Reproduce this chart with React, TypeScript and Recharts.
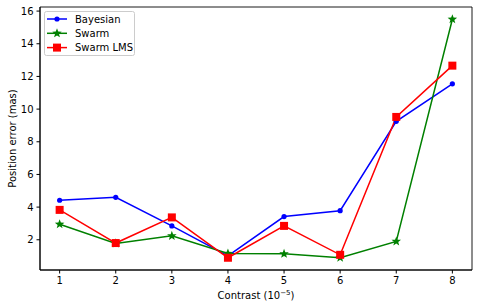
import React from 'react';
import { LineChart, Line, XAxis, YAxis, ReferenceArea, Label } from 'recharts';

const contrast = [1, 2, 3, 4, 5, 6, 7, 8];
const bayesian = [4.42, 4.6, 2.85, 1.02, 3.42, 3.78, 9.25, 11.55];
const swarm = [2.95, 1.78, 2.24, 1.16, 1.14, 0.9, 1.9, 15.5];
const swarmLms = [3.83, 1.8, 3.37, 0.9, 2.85, 1.08, 9.52, 12.66];
const xTicks = [1, 2, 3, 4, 5, 6, 7, 8];
const yTicks = [2, 4, 6, 8, 10, 12, 14, 16];

const rows = contrast.map((c, i) => ({
  c,
  bayesian: bayesian[i],
  swarm: swarm[i],
  swarmLms: swarmLms[i],
}));

const FONT = '"DejaVu Sans", sans-serif';

const starPath = (cx: number, cy: number, R: number, r: number) => {
  let d = '';
  for (let i = 0; i < 10; i++) {
    const rad = i % 2 === 0 ? R : r;
    const a = -Math.PI / 2 + (i * Math.PI) / 5;
    d += (i === 0 ? 'M' : 'L') + (cx + rad * Math.cos(a)).toFixed(2) + ',' + (cy + rad * Math.sin(a)).toFixed(2);
  }
  return d + 'Z';
};

const CircleDot = (p: any) => <circle key={p.key} cx={p.cx} cy={p.cy} r={2.6} fill="#0000ff" />;
const StarDot = (p: any) => <path key={p.key} d={starPath(p.cx, p.cy, 5, 2.1)} fill="#008000" />;
const SquareDot = (p: any) => (
  <rect key={p.key} x={p.cx - 4} y={p.cy - 4} width={8} height={8} fill="#ff0000" />
);

const legendItems = [
  { name: 'Bayesian', color: '#0000ff', kind: 'circle' },
  { name: 'Swarm', color: '#008000', kind: 'star' },
  { name: 'Swarm LMS', color: '#ff0000', kind: 'square' },
];

const LegendBox = () => (
  <svg width={92} height={46} style={{ display: 'block' }}>
    <rect x={0.5} y={0.5} width={90} height={44} rx={2} fill="#fff" fillOpacity={0.8} stroke="#cccccc" />
    {legendItems.map((it, i) => {
      const y = 8 + i * 14.3;
      return (
        <g key={it.name}>
          <line x1={3} x2={23} y1={y} y2={y} stroke={it.color} strokeWidth={1.5} />
          {it.kind === 'circle' && <circle cx={13} cy={y} r={2.6} fill={it.color} />}
          {it.kind === 'star' && <path d={starPath(13, y, 5, 2.1)} fill={it.color} />}
          {it.kind === 'square' && <rect x={9} y={y - 4} width={8} height={8} fill={it.color} />}
          <text x={31} y={y + 3.6} fontSize={10} fontFamily={FONT} fill="#000">
            {it.name}
          </text>
        </g>
      );
    })}
  </svg>
);

const XLabel = (props: any) => {
  const { viewBox } = props;
  const cx = viewBox.x + viewBox.width / 2;
  return (
    <text x={cx} y={viewBox.y + 29} textAnchor="middle" fontSize={10} fontFamily={FONT} fill="#000">
      Contrast (10
      <tspan dy={-4} fontSize={7}>−5</tspan>
      <tspan dy={4}>)</tspan>
    </text>
  );
};

const YLabel = (props: any) => {
  const { viewBox } = props;
  const cy = viewBox.y + viewBox.height / 2;
  return (
    <text
      x={12}
      y={cy}
      transform={`rotate(-90 12 ${cy})`}
      textAnchor="middle"
      dominantBaseline="central"
      fontSize={10}
      fontFamily={FONT}
      fill="#000"
    >
      Position error (mas)
    </text>
  );
};

export default function App() {
  return (
    <div style={{ position: 'fixed', left: 0, top: 0, width: 479, height: 308, background: '#fff' }}>
      <LineChart width={479} height={308} data={rows} margin={{ top: 7, right: 7, left: 0, bottom: 0 }}>
        <XAxis
          dataKey="c"
          type="number"
          domain={[0.65, 8.35]}
          ticks={xTicks}
          height={38}
          allowDataOverflow
          stroke="#000"
          tickSize={3.5}
          tick={{ fill: '#000', fontSize: 10, fontFamily: FONT }}
          tickMargin={3}
        >
          <Label content={<XLabel />} />
        </XAxis>
        <YAxis
          type="number"
          domain={[0.15, 16.25]}
          ticks={yTicks}
          width={40}
          allowDataOverflow
          stroke="#000"
          tickSize={3.5}
          tick={{ fill: '#000', fontSize: 10, fontFamily: FONT }}
          tickMargin={3}
        >
          <Label content={<YLabel />} />
        </YAxis>
        <ReferenceArea x1={0.65} x2={8.35} y1={0.15} y2={16.25} fill="none" stroke="#000" strokeWidth={0.9} />
        <Line dataKey="bayesian" stroke="#0000ff" strokeWidth={1.5} dot={CircleDot} isAnimationActive={false} />
        <Line dataKey="swarm" stroke="#008000" strokeWidth={1.5} dot={StarDot} isAnimationActive={false} />
        <Line dataKey="swarmLms" stroke="#ff0000" strokeWidth={1.5} dot={SquareDot} isAnimationActive={false} />
      </LineChart>
      <div style={{ position: 'absolute', left: 44, top: 11 }}>
        <LegendBox />
      </div>
    </div>
  );
}
